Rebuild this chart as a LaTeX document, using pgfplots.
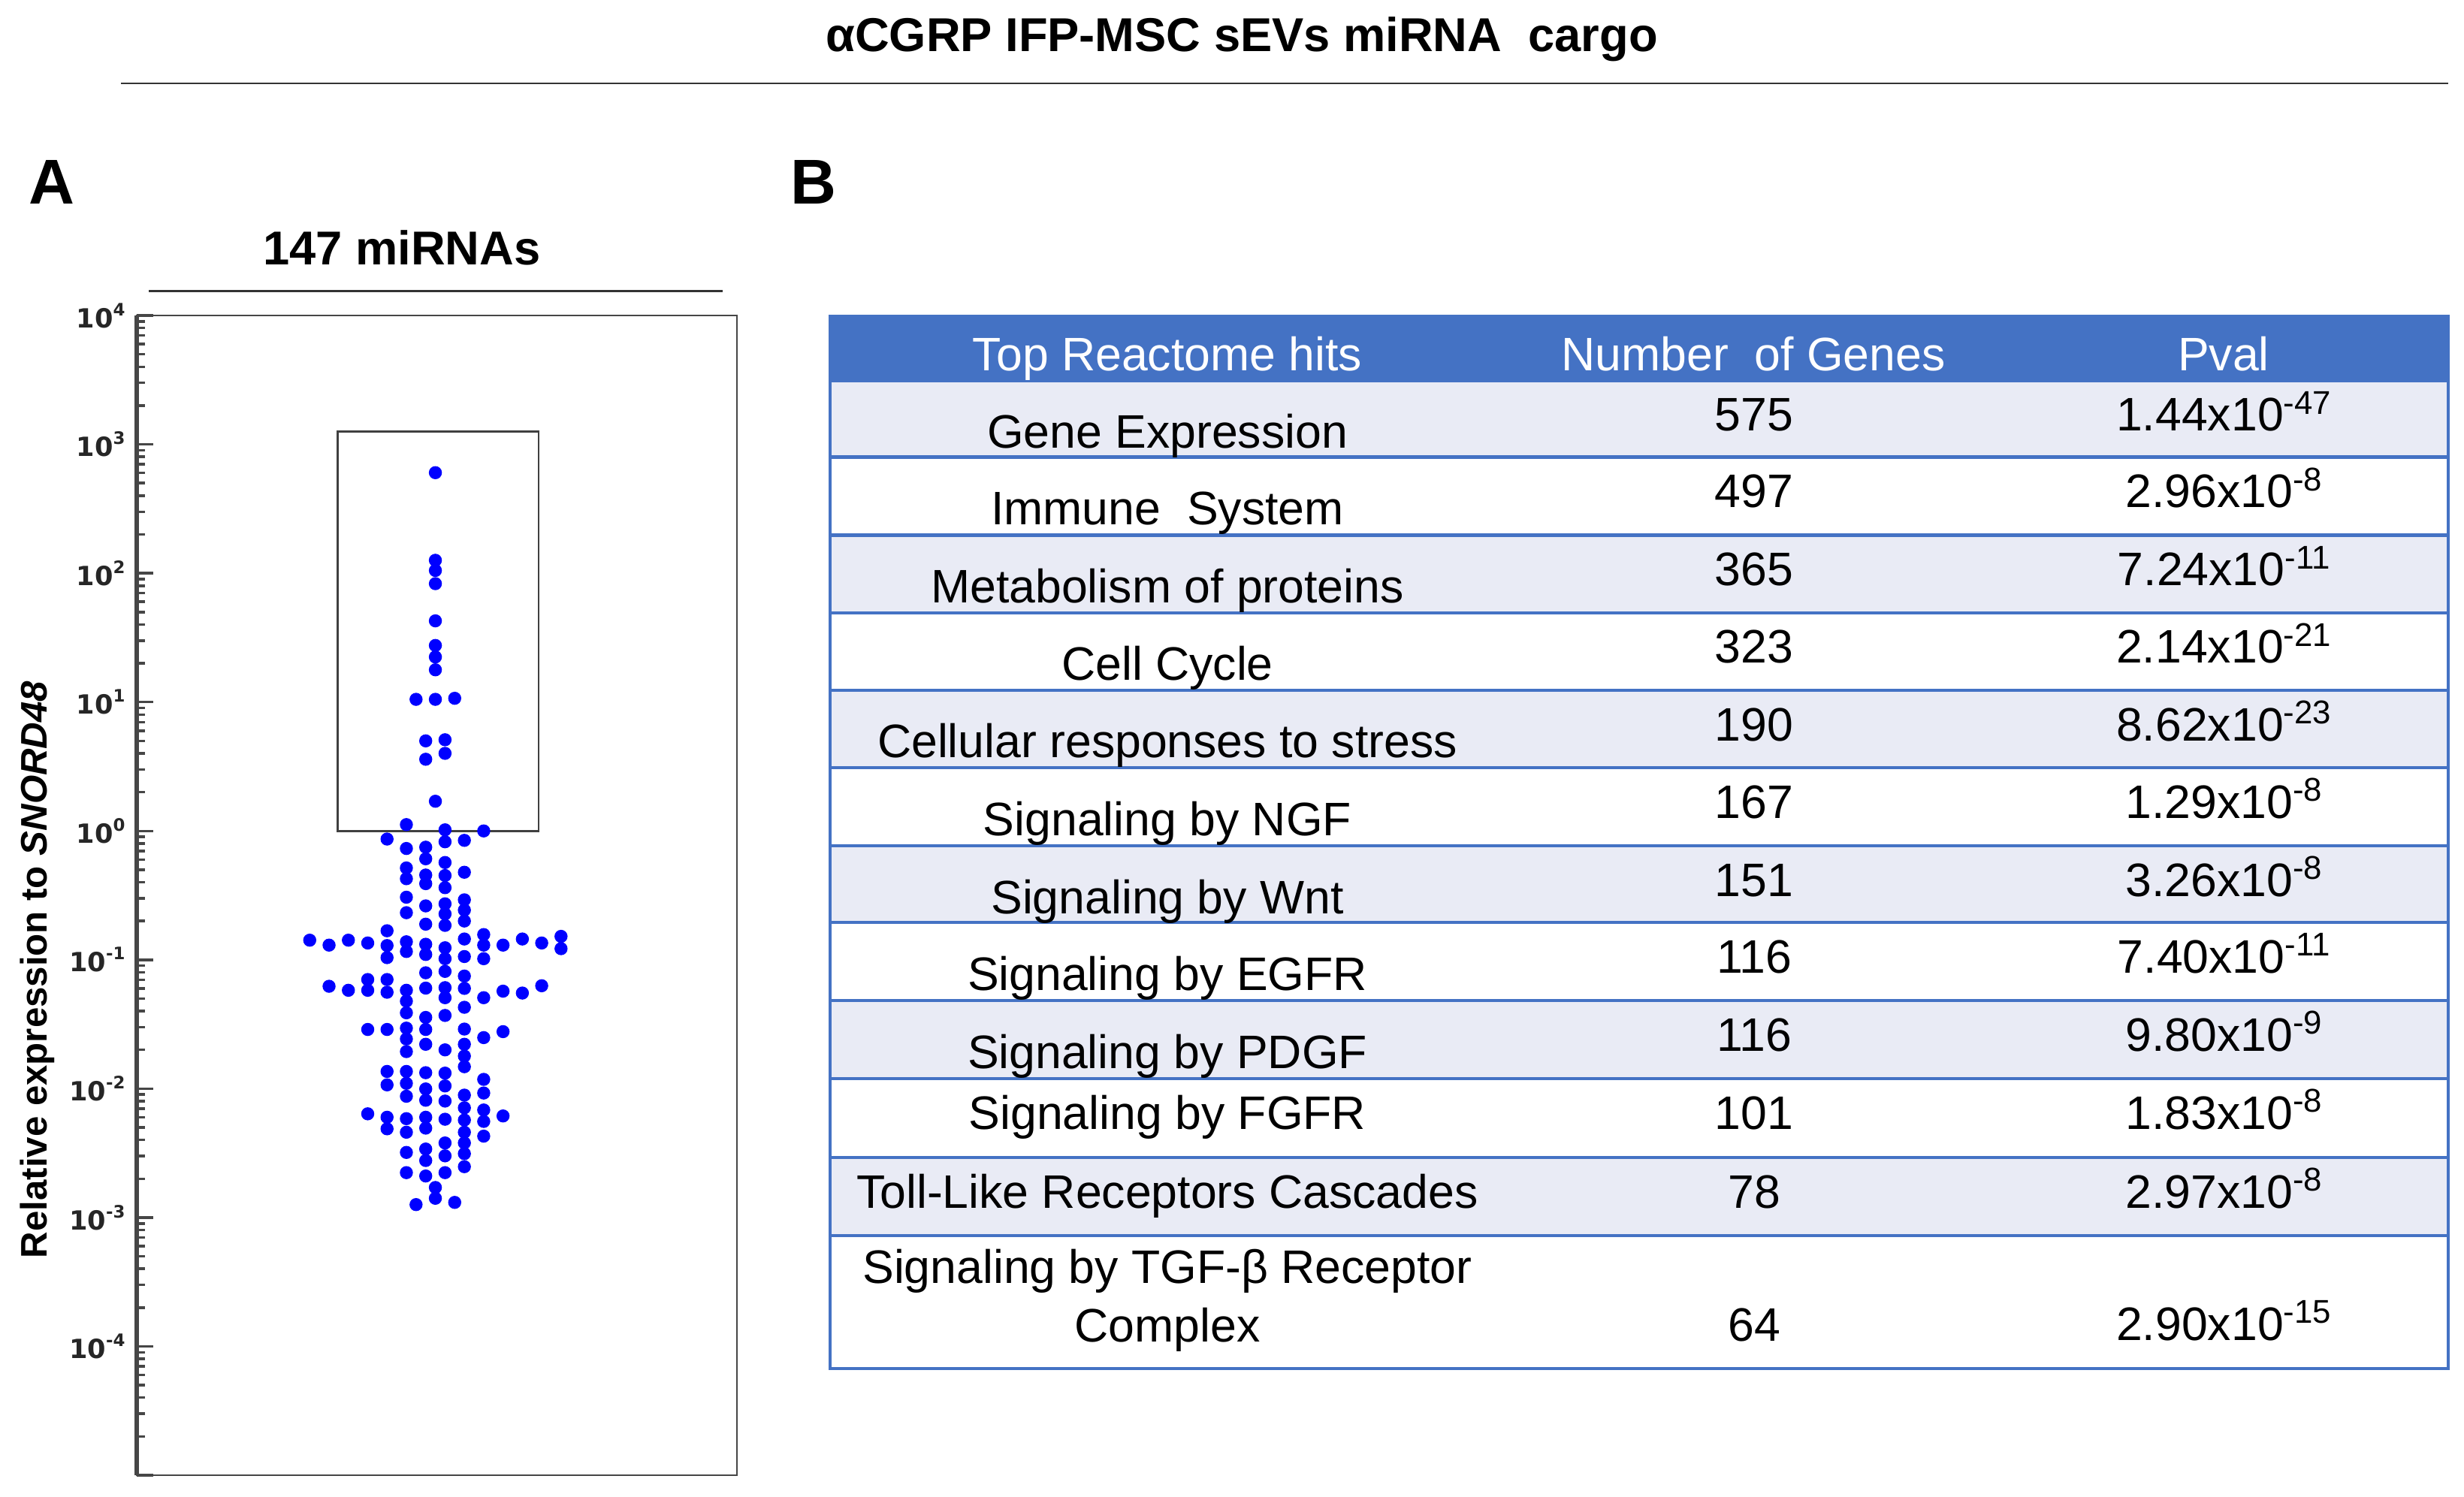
\documentclass[border=0pt]{standalone}
\usepackage{pgfplots}
\pgfplotsset{compat=1.18}
\usepackage{fontspec}
\setmainfont{Liberation Sans}
\newfontfamily\dejavu{DejaVu Sans}
\definecolor{hblue}{RGB}{68,114,196}
\definecolor{rowlt}{RGB}{233,235,245}
\definecolor{axgray}{RGB}{70,70,70}
\newcommand{\tf}{\fontsize{17.8}{21}\selectfont}
\newcommand{\tsup}[1]{\raisebox{0.45em}{\fontsize{6.5}{7}\selectfont #1}}

\pgfplotstableread{
x y
0 603
0 126
0 105
0 83
0 42.7
0 27.5
0 22.4
0 17.8
-2 10.5
0 10.5
2 10.7
-1 5.0
1 5.1
-1 3.6
1 4.0
0 1.70
-3 1.12
1 1.02
5 1.00
-5 0.865
1 0.824
3 0.845
-3 0.731
-1 0.748
-1 0.608
1 0.569
-3 0.516
-1 0.455
1 0.451
3 0.478
-3 0.426
-1 0.390
1 0.363
-3 0.306
-1 0.262
1 0.272
3 0.292
3 0.243
1 0.227
-3 0.232
3 0.200
1 0.185
-1 0.189
-13 0.142
-11 0.130
-9 0.142
-7 0.135
-5 0.168
-5 0.129
-5 0.104
-3 0.138
-3 0.116
-1 0.132
-1 0.110
1 0.124
1 0.102
3 0.145
3 0.106
5 0.157
5 0.130
5 0.102
7 0.130
9 0.145
11 0.135
13 0.152
13 0.122
-1 0.0793
1 0.0813
3 0.0748
3 0.0600
-1 0.0603
1 0.0608
1 0.0508
-11 0.0623
-9 0.0580
-7 0.0703
-7 0.0580
-5 0.0703
-5 0.0560
-3 0.0580
-3 0.0478
-3 0.0388
5 0.0508
7 0.0571
9 0.0552
11 0.0629
3 0.0428
1 0.0370
-1 0.0357
-7 0.0288
-5 0.0288
-3 0.0295
-3 0.0243
-3 0.0194
-1 0.0288
-1 0.0221
1 0.0200
3 0.0290
3 0.0221
3 0.0179
3 0.0148
5 0.0249
7 0.0277
-5 0.0136
-5 0.0107
-3 0.0136
-3 0.0110
-3 0.00873
-1 0.0133
-1 0.00995
-1 0.00813
1 0.0132
1 0.0105
1 0.00801
3 0.00891
3 0.00710
5 0.0118
5 0.00925
-7 0.00638
-5 0.00600
-5 0.00488
-3 0.00585
-3 0.00459
-1 0.00600
-1 0.00494
1 0.00579
3 0.00571
3 0.00459
3 0.00379
3 0.00313
3 0.00248
5 0.00683
5 0.00557
5 0.00428
7 0.00614
-3 0.00320
-3 0.00223
-1 0.00340
-1 0.00277
-1 0.00210
1 0.00379
1 0.00301
1 0.00223
0 0.00171
0 0.00141
-2 0.00126
2 0.00131
}\mirna

\begin{document}
\begin{tikzpicture}
\useasboundingbox (0,0) rectangle (328mm,-199.3mm);

% title
\node[anchor=base, font=\bfseries\fontsize{18}{21}\selectfont] at (165.3mm,-6.9mm) {αCGRP IFP-MSC sEVs miRNA\ \ cargo};
\draw[black!80, line width=0.2mm] (16.1mm,-11.1mm) -- (325.9mm,-11.1mm);

% panel letters
\node[anchor=base, font=\bfseries\fontsize{24}{28}\selectfont] at (6.9mm,-27.2mm) {A};
\node[anchor=base, font=\bfseries\fontsize{24}{28}\selectfont] at (108.3mm,-27.2mm) {B};

% panel A header
\node[anchor=base, font=\bfseries\fontsize{18}{21}\selectfont] at (53.5mm,-35.3mm) {147 miRNAs};
\draw[black!80, line width=0.3mm] (19.8mm,-38.8mm) -- (96.2mm,-38.8mm);

% y label
\node[rotate=90, font=\bfseries\fontsize{14}{16}\selectfont] at (5.0mm,-129.1mm) {Relative expression to \textit{SNORD48}};

\begin{axis}[
  at={(18.2mm,-196.4mm)}, anchor=south west,
  scale only axis, width=79.9mm, height=154.4mm,
  xmin=-30.9, xmax=31.2,
  ymode=log, log basis y=10, ymin=1e-5, ymax=1e4,
  xtick=\empty,
  ytick={1e-5,1e-4,1e-3,1e-2,1e-1,1,10,100,1000,10000},
  minor ytick={2e-5,3e-5,4e-5,5e-5,6e-5,7e-5,8e-5,9e-5,
    2e-4,3e-4,4e-4,5e-4,6e-4,7e-4,8e-4,9e-4,
    2e-3,3e-3,4e-3,5e-3,6e-3,7e-3,8e-3,9e-3,
    0.02,0.03,0.04,0.05,0.06,0.07,0.08,0.09,
    0.2,0.3,0.4,0.5,0.6,0.7,0.8,0.9,
    2,3,4,5,6,7,8,9,
    20,30,40,50,60,70,80,90,
    200,300,400,500,600,700,800,900,
    2000,3000,4000,5000,6000,7000,8000,9000},
  yticklabels={,10\tsup{-4},10\tsup{-3},10\tsup{-2},10\tsup{-1},10\tsup{0},10\tsup{1},10\tsup{2},10\tsup{3},10\tsup{4}},
  ytick pos=left, ytick align=inside,
  major tick length=2.2mm, minor tick length=1.1mm,
  axis line style={draw=axgray, line width=0.2mm},
  tick style={draw=axgray, line width=0.35mm},
  yticklabel style={font=\dejavu\bfseries\fontsize{10}{11}\selectfont, text=black!85, xshift=-0.3mm},
  clip=false,
]
\draw[axgray, line width=0.6mm] (rel axis cs:0,0) -- (rel axis cs:0,1);
\draw[black!75, line width=0.25mm] (axis cs:-10.1,1) rectangle (axis cs:10.7,1260);
\addplot[only marks, mark=*, mark size=0.8mm, color=blue, mark options={draw=blue, fill=blue}] table[x=x, y=y] {\mirna};
\end{axis}

% table B
\fill[hblue] (110.5mm,-42.1mm) rectangle (325.9mm,-50.7mm);
\fill[rowlt] (110.5mm,-50.7mm) rectangle (325.9mm,-60.85mm);
\fill[rowlt] (110.5mm,-71.25mm) rectangle (325.9mm,-81.6mm);
\fill[rowlt] (110.5mm,-91.9mm) rectangle (325.9mm,-102.2mm);
\fill[rowlt] (110.5mm,-112.6mm) rectangle (325.9mm,-122.8mm);
\fill[rowlt] (110.5mm,-133.2mm) rectangle (325.9mm,-143.6mm);
\fill[rowlt] (110.5mm,-154.1mm) rectangle (325.9mm,-164.5mm);
\foreach \yy in {50.7,60.85,71.25,81.6,91.9,102.2,112.6,122.8,133.2,143.6,154.1,164.5}
  \draw[hblue, line width=0.45mm] (110.5mm,-\yy mm) -- (325.9mm,-\yy mm);
\draw[hblue, line width=0.45mm] (110.5mm,-42.1mm) rectangle (325.9mm,-182.2mm);

% header
\node[anchor=base, font=\tf, text=white] at (155.4mm,-49.4mm) {Top Reactome hits};
\node[anchor=base, font=\tf, text=white] at (233.4mm,-49.4mm) {Number\ \ of Genes};
\node[anchor=base, font=\tf, text=white] at (296.0mm,-49.4mm) {Pval};

% column 1
\node[anchor=base, font=\tf] at (155.4mm,-59.7mm) {Gene Expression};
\node[anchor=base, font=\tf] at (155.4mm,-69.85mm) {Immune\ \ System};
\node[anchor=base, font=\tf] at (155.4mm,-80.25mm) {Metabolism of proteins};
\node[anchor=base, font=\tf] at (155.4mm,-90.6mm) {Cell Cycle};
\node[anchor=base, font=\tf] at (155.4mm,-100.9mm) {Cellular responses to stress};
\node[anchor=base, font=\tf] at (155.4mm,-111.2mm) {Signaling by NGF};
\node[anchor=base, font=\tf] at (155.4mm,-121.6mm) {Signaling by Wnt};
\node[anchor=base, font=\tf] at (155.4mm,-131.8mm) {Signaling by EGFR};
\node[anchor=base, font=\tf] at (155.4mm,-142.2mm) {Signaling by PDGF};
\node[anchor=base, font=\tf] at (155.4mm,-150.35mm) {Signaling by FGFR};
\node[anchor=base, font=\tf] at (155.4mm,-160.85mm) {Toll-Like Receptors Cascades};
\node[anchor=base, font=\tf] at (155.4mm,-170.8mm) {Signaling by TGF-β Receptor};
\node[anchor=base, font=\tf] at (155.4mm,-178.6mm) {Complex};

% column 2
\node[anchor=base, font=\tf] at (233.5mm,-57.4mm) {575};
\node[anchor=base, font=\tf] at (233.5mm,-67.55mm) {497};
\node[anchor=base, font=\tf] at (233.5mm,-77.95mm) {365};
\node[anchor=base, font=\tf] at (233.5mm,-88.3mm) {323};
\node[anchor=base, font=\tf] at (233.5mm,-98.6mm) {190};
\node[anchor=base, font=\tf] at (233.5mm,-108.9mm) {167};
\node[anchor=base, font=\tf] at (233.5mm,-119.3mm) {151};
\node[anchor=base, font=\tf] at (233.5mm,-129.5mm) {116};
\node[anchor=base, font=\tf] at (233.5mm,-139.9mm) {116};
\node[anchor=base, font=\tf] at (233.5mm,-150.3mm) {101};
\node[anchor=base, font=\tf] at (233.5mm,-160.8mm) {78};
\node[anchor=base, font=\tf] at (233.5mm,-178.5mm) {64};

% column 3
\node[anchor=base, font=\tf] at (296.1mm,-57.4mm) {1.44x10\textsuperscript{-47}};
\node[anchor=base, font=\tf] at (296.1mm,-67.55mm) {2.96x10\textsuperscript{-8}};
\node[anchor=base, font=\tf] at (296.1mm,-77.95mm) {7.24x10\textsuperscript{-11}};
\node[anchor=base, font=\tf] at (296.1mm,-88.3mm) {2.14x10\textsuperscript{-21}};
\node[anchor=base, font=\tf] at (296.1mm,-98.6mm) {8.62x10\textsuperscript{-23}};
\node[anchor=base, font=\tf] at (296.1mm,-108.9mm) {1.29x10\textsuperscript{-8}};
\node[anchor=base, font=\tf] at (296.1mm,-119.3mm) {3.26x10\textsuperscript{-8}};
\node[anchor=base, font=\tf] at (296.1mm,-129.5mm) {7.40x10\textsuperscript{-11}};
\node[anchor=base, font=\tf] at (296.1mm,-139.9mm) {9.80x10\textsuperscript{-9}};
\node[anchor=base, font=\tf] at (296.1mm,-150.3mm) {1.83x10\textsuperscript{-8}};
\node[anchor=base, font=\tf] at (296.1mm,-160.8mm) {2.97x10\textsuperscript{-8}};
\node[anchor=base, font=\tf] at (296.1mm,-178.4mm) {2.90x10\textsuperscript{-15}};
\end{tikzpicture}
\end{document}
